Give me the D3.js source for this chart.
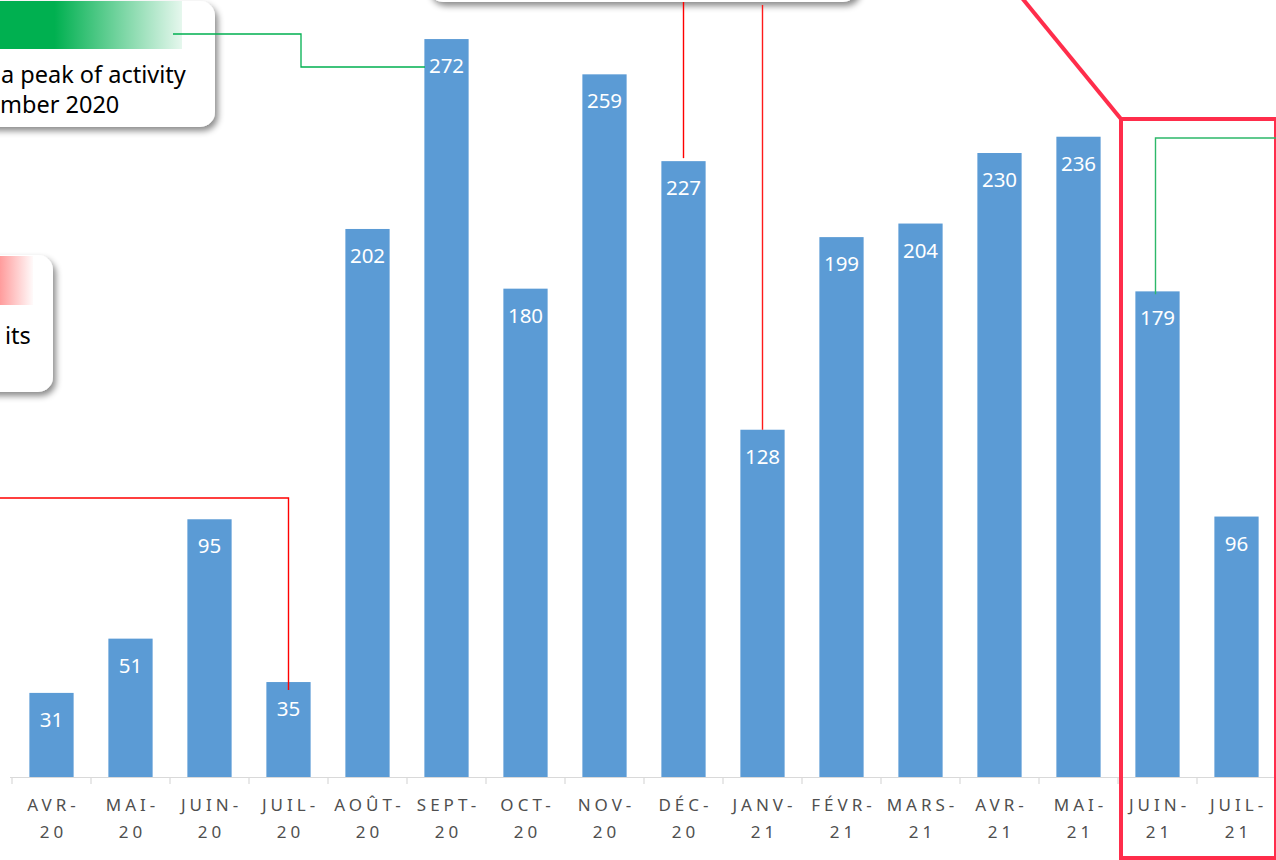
<!DOCTYPE html>
<html><head><meta charset="utf-8">
<script src="https://cdn.jsdelivr.net/npm/d3@7"></script>
<style>html,body{margin:0;padding:0;background:#fff;overflow:hidden}svg{display:block}</style>
</head><body>
<svg id="chart" width="1276" height="860"></svg>
<script>
const months = ["AVR-20","MAI-20","JUIN-20","JUIL-20","AOÛT-20","SEPT-20","OCT-20","NOV-20","DÉC-20","JANV-21","FÉVR-21","MARS-21","AVR-21","MAI-21","JUIN-21","JUIL-21"];
const counts = [31,51,95,35,202,272,180,259,227,128,199,204,230,236,179,96];
const calloutTopLeft = ["a peak of activity","mber 2020"];
const calloutLeft = ["its"];

const svg = d3.select("#chart");
const font = "'Noto Sans', 'Open Sans', sans-serif";
const defs = svg.append("defs");
const f = defs.append("filter").attr("id","sh").attr("x","-20%").attr("y","-20%").attr("width","140%").attr("height","150%");
f.append("feDropShadow").attr("dx",3).attr("dy",4).attr("stdDeviation",3).attr("flood-color","#000").attr("flood-opacity",0.45);
const gG = defs.append("linearGradient").attr("id","gg").attr("x1","0").attr("x2","1").attr("y1","0").attr("y2","0");
gG.append("stop").attr("offset","0").attr("stop-color","#00b050");
gG.append("stop").attr("offset","0.3").attr("stop-color","#00b050");
gG.append("stop").attr("offset","1").attr("stop-color","#00b050").attr("stop-opacity",0.1);
const gP = defs.append("linearGradient").attr("id","gp").attr("x1","0").attr("x2","1").attr("y1","0").attr("y2","0");
gP.append("stop").attr("offset","0").attr("stop-color","#ff9c9c");
gP.append("stop").attr("offset","1").attr("stop-color","#ff9c9c").attr("stop-opacity",0.05);

const x = d3.scaleBand().domain(months).range([12,1276]).paddingInner(0.44).paddingOuter(0.22);
const y = d3.scaleLinear().domain([0,300]).range([777, 777-300*2.713]);

// axis
const axis = svg.append("g");
axis.append("line").attr("x1",10).attr("x2",1276).attr("y1",777.5).attr("y2",777.5).attr("stroke","#d9d9d9").attr("stroke-width",1.2);
const step = x.step();
d3.range(months.length+1).forEach(i=>{
  const xx = 12 + i*step;
  axis.append("line").attr("x1",xx).attr("x2",xx).attr("y1",777).attr("y2",784).attr("stroke","#d9d9d9").attr("stroke-width",1.2);
});
months.forEach(m=>{
  const idx = m.lastIndexOf("-");
  const l1 = m.slice(0,idx+1), l2 = m.slice(idx+1);
  const cx = x(m) + x.bandwidth()/2 + 2;
  const t = axis.append("text").attr("x",cx).attr("text-anchor","middle").attr("font-family",font).attr("font-size",17).attr("fill","#4f4f4f").attr("letter-spacing","4px");
  t.append("tspan").attr("x",cx).attr("y",811).text(l1);
  t.append("tspan").attr("x",cx).attr("y",838).text(l2);
});

// bars
svg.append("g").selectAll("rect").data(counts).join("rect")
  .attr("x",(d,i)=>x(months[i])).attr("width",x.bandwidth())
  .attr("y",d=>y(d)).attr("height",d=>y(0)-y(d))
  .attr("fill","#5b9bd5");
svg.append("g").selectAll("text").data(counts).join("text")
  .attr("x",(d,i)=>x(months[i])+x.bandwidth()/2).attr("y",d=>y(d)+34)
  .attr("text-anchor","middle").attr("font-family",font).attr("font-size",20.5).attr("fill","#fff").text(d=>d);

// top-left callout
svg.append("rect").attr("x",-40).attr("y",1).attr("width",255).attr("height",126).attr("rx",15).attr("fill","#fff").attr("filter","url(#sh)");
svg.append("rect").attr("x",0).attr("y",1).attr("width",182).attr("height",48).attr("fill","url(#gg)");
svg.append("text").attr("x",1).attr("y",83).attr("font-family",font).attr("font-size",23.5).attr("fill","#000").text(calloutTopLeft[0]);
svg.append("text").attr("x",0).attr("y",113).attr("font-family",font).attr("font-size",23.5).attr("fill","#000").text(calloutTopLeft[1]);
svg.append("polyline").attr("points",[[173,34],[301,34],[301,67],[425,67]].join(" ")).attr("fill","none").attr("stroke","#00b050").attr("stroke-width",1.3);

// top-middle callout
svg.append("rect").attr("x",428).attr("y",-100).attr("width",430).attr("height",102).attr("rx",15).attr("fill","#fff").attr("filter","url(#sh)");
const decX = x("DÉC-20")+x.bandwidth()/2, janX = x("JANV-21")+x.bandwidth()/2;
svg.append("line").attr("x1",decX).attr("x2",decX).attr("y1",2).attr("y2",y(227)-3).attr("stroke","#ff0000").attr("stroke-width",1.4);
svg.append("line").attr("x1",janX).attr("x2",janX).attr("y1",5).attr("y2",y(128)).attr("stroke","#ff1a1a").attr("stroke-width",1.4);

// left callout
svg.append("rect").attr("x",-200).attr("y",255).attr("width",253).attr("height",137).attr("rx",15).attr("fill","#fff").attr("filter","url(#sh)");
svg.append("rect").attr("x",0).attr("y",256).attr("width",33).attr("height",49).attr("fill","url(#gp)");
svg.append("text").attr("x",5).attr("y",344).attr("font-family",font).attr("font-size",23.5).attr("fill","#000").text(calloutLeft[0]);
const julX = x("JUIL-20")+x.bandwidth()/2;
svg.append("polyline").attr("points",[[0,498],[julX,498],[julX,690]].join(" ")).attr("fill","none").attr("stroke","#ff0000").attr("stroke-width",1.4);

// right highlight box
svg.append("line").attr("x1",1022).attr("y1",-2).attr("x2",1121).attr("y2",119).attr("stroke","#ff2d4b").attr("stroke-width",4);
svg.append("rect").attr("x",1121).attr("y",119).attr("width",155).attr("height",739).attr("fill","none").attr("stroke","#ff2d4b").attr("stroke-width",4);
const junX = x("JUIN-21")+x.bandwidth()/2 - 2;
svg.append("polyline").attr("points",[[junX,y(179)+3],[junX,138],[1276,138]].join(" ")).attr("fill","none").attr("stroke","#2db86a").attr("stroke-width",1.4);
</script>
</body></html>
